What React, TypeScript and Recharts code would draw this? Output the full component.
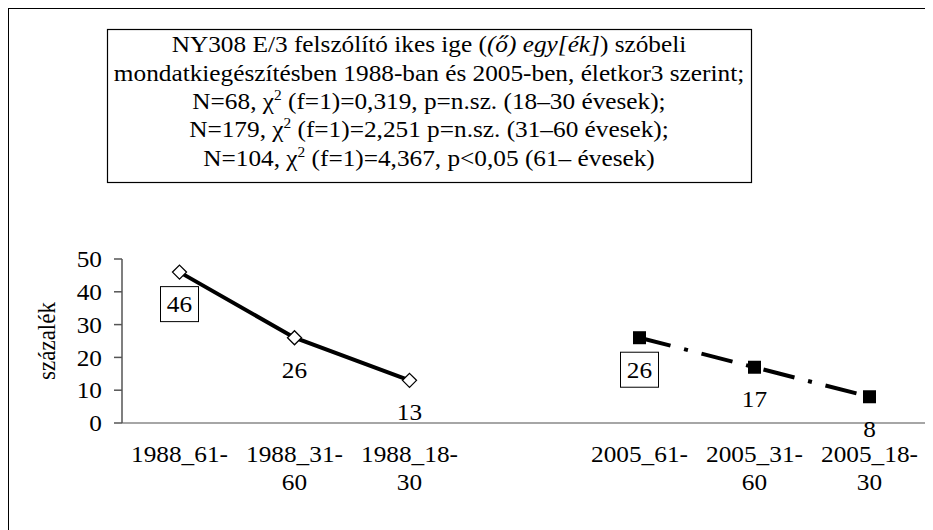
import React from 'react'
import { LineChart, Line, XAxis, YAxis, Label, LabelList } from 'recharts'

const FONT = "'Liberation Serif', 'Times New Roman', serif"
// the reference text is a little wider than plain Times
const SX = 1.1

const categories = ['1988_61-', '1988_31-60', '1988_18-30', '', '2005_61-', '2005_31-60', '2005_18-30']
const tickLines = [['1988_61-'], ['1988_31-', '60'], ['1988_18-', '30'], [], ['2005_61-'], ['2005_31-', '60'], ['2005_18-', '30']]
const values1988 = [46, 26, 13, null, null, null, null]
const values2005 = [null, null, null, null, 26, 17, 8]
const yTicks = [0, 10, 20, 30, 40, 50]

const titleLines = [
  'NY308 E/3 felszólító ikes ige',
  'mondatkiegészítésben 1988-ban és 2005-ben, életkor3 szerint;',
  'N=68, χ² (f=1)=0,319, p=n.sz. (18–30 évesek);',
  'N=179, χ² (f=1)=2,251 p=n.sz. (31–60 évesek);',
  'N=104, χ² (f=1)=4,367, p<0,05 (61– évesek)',
]

const data = categories.map((c, i) => ({
  name: c,
  x: i + 0.5,
  v1988: values1988[i],
  v2005: values2005[i],
}))

const boundaryTicks = categories.map((_, i) => i).concat(categories.length)
const centerTicks = categories.map((_, i) => i + 0.5)

function SText({ x, y, anchor = 'middle', dy, rotate, children }: any) {
  const t = `translate(${x},${y}) scale(${SX},1)` + (rotate ? ` rotate(${rotate})` : '')
  return (
    <text transform={t} textAnchor={anchor} dy={dy} fontSize={23} fontFamily={FONT} fill="#000">
      {children}
    </text>
  )
}

// chi line with a real superscript 2
function ChiLine({ text, y }: { text: string; y: number }) {
  const [a, b] = text.split('²')
  return (
    <SText x={421} y={y}>
      {a}
      <tspan fontSize={14} dy={-9}>2</tspan>
      <tspan dy={9}>{b}</tspan>
    </SText>
  )
}

function Title() {
  const ys = [44.3, 72.7, 101, 129.4, 157.7]
  return (
    <svg width={925} height={200} style={{ position: 'absolute', left: 0, top: 0 }}>
      <rect x={99.5} y={21.5} width={644} height={153} fill="#fff" stroke="#000" strokeWidth={1.2} />
      <SText x={421} y={ys[0]}>
        {titleLines[0]} (<tspan fontStyle="italic">(ő) egy[ék]</tspan>) szóbeli
      </SText>
      <SText x={421} y={ys[1]}>{titleLines[1]}</SText>
      <ChiLine text={titleLines[2]} y={ys[2]} />
      <ChiLine text={titleLines[3]} y={ys[3]} />
      <ChiLine text={titleLines[4]} y={ys[4]} />
    </svg>
  )
}

const CategoryTick = (props: any) => {
  const { x, y, payload } = props
  const lines = tickLines[Math.floor(payload.value)] ?? []
  return (
    <g>
      {lines.map((l, i) => (
        <SText key={i} x={x} y={y + 29 + i * 28}>
          {l}
        </SText>
      ))}
    </g>
  )
}

const ValueTick = (props: any) => {
  const { x, y, payload } = props
  return (
    <SText x={x} y={y} anchor="end" dy="0.355em">
      {payload.value}
    </SText>
  )
}

const AxisTitle = (props: any) => {
  const { viewBox } = props
  return (
    <SText x={viewBox.x + 14} y={viewBox.y + viewBox.height / 2} rotate={-90} dy="0.355em">
      százalék
    </SText>
  )
}

const makeLabel = (boxed: number[]) => (props: any) => {
  const { x, y, value, index } = props
  if (value == null || x == null || y == null) return null
  const cy = y + 32
  return (
    <g>
      {boxed.includes(index) && (
        <rect x={x - 19} y={cy - 17.5} width={38} height={35} fill="#fff" stroke="#000" strokeWidth={1} />
      )}
      <SText x={x} y={cy + 8}>
        {value}
      </SText>
    </g>
  )
}

const Diamond = (props: any) => {
  const { cx, cy, index } = props
  if (cx == null || cy == null) return <g key={index} />
  return (
    <path
      key={index}
      d={`M${cx},${cy - 7} L${cx + 7},${cy} L${cx},${cy + 7} L${cx - 7},${cy} Z`}
      fill="#fff"
      stroke="#000"
      strokeWidth={1.3}
    />
  )
}

const Square = (props: any) => {
  const { cx, cy, index } = props
  if (cx == null || cy == null) return <g key={index} />
  return <rect key={index} x={cx - 6.5} y={cy - 6.5} width={13} height={13} fill="#000" />
}

export default function App() {
  return (
    <div style={{ position: 'relative', width: 925, height: 522, overflow: 'hidden', fontFamily: FONT }}>
      <div
        style={{
          position: 'absolute',
          left: -1,
          top: -1,
          width: 940,
          height: 540,
          borderLeft: '2px solid #000',
          borderTop: '2px solid #000',
        }}
      />
      <Title />
      <div style={{ position: 'absolute', left: 0, top: 0 }}>
        <LineChart width={925} height={522} data={data} margin={{ top: 251, right: 6, left: 24, bottom: 0 }}>
          <XAxis
            dataKey="x"
            type="number"
            domain={[0, 7]}
            ticks={boundaryTicks}
            allowDataOverflow
            tick={false}
            tickSize={9}
            height={10}
            stroke="#888"
            strokeWidth={1.5}
          />
          <XAxis
            xAxisId="lab"
            dataKey="x"
            type="number"
            domain={[0, 7]}
            ticks={centerTicks}
            allowDataOverflow
            axisLine={false}
            tickLine={false}
            tickSize={0}
            tickMargin={0}
            height={97}
            tick={<CategoryTick />}
            interval={0}
          />
          <YAxis
            domain={[0, 50]}
            ticks={yTicks}
            width={90}
            tickSize={8}
            tickMargin={12}
            stroke="#555"
            strokeWidth={1.5}
            tick={<ValueTick />}
            interval={0}
          >
            <Label position="insideLeft" content={<AxisTitle />} />
          </YAxis>
          <Line
            dataKey="v1988"
            stroke="#000"
            strokeWidth={4}
            dot={Diamond}
            activeDot={false}
            connectNulls={false}
            isAnimationActive={false}
          >
            <LabelList dataKey="v1988" content={makeLabel([0])} />
          </Line>
          <Line
            dataKey="v2005"
            stroke="#000"
            strokeWidth={4}
            strokeDasharray="32 14 4 14"
            dot={Square}
            activeDot={false}
            connectNulls={false}
            isAnimationActive={false}
          >
            <LabelList dataKey="v2005" content={makeLabel([4])} />
          </Line>
        </LineChart>
      </div>
    </div>
  )
}
